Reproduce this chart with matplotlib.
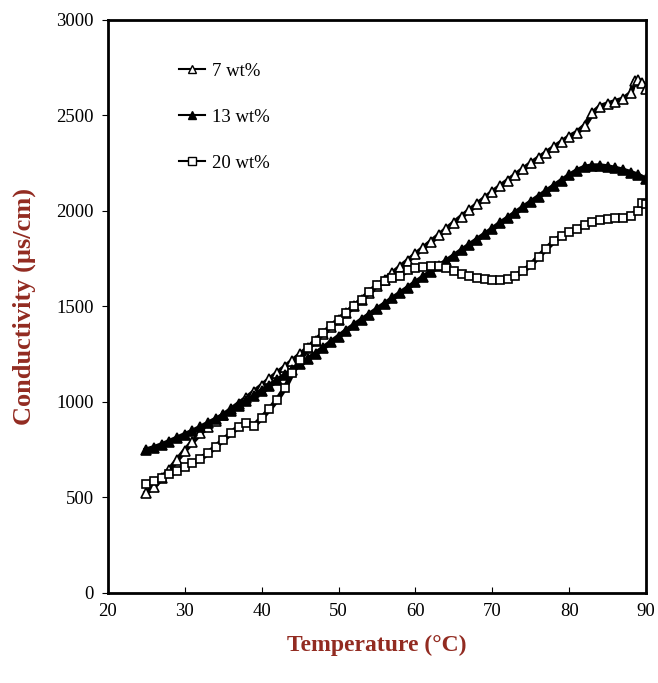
import numpy as np
import matplotlib
matplotlib.use('Agg')
import matplotlib.pyplot as plt

plt.rcParams['font.family'] = ['Liberation Serif', 'DejaVu Serif']

# Temperature readings (deg C)
temp = [25, 26, 27, 28, 29, 30, 31, 32, 33, 34, 35, 36, 37, 38, 39, 40,
        41, 42, 43, 44, 45, 46, 47, 48, 49, 50, 51, 52, 53, 54, 55, 56,
        57, 58, 59, 60, 61, 62, 63, 64, 65, 66, 67, 68, 69, 70, 71, 72,
        73, 74, 75, 76, 77, 78, 79, 80, 81, 82, 83, 84, 85, 86, 87, 88,
        89, 90]

# 7 wt% (open triangles)
temp_7 = temp[:64] + [88.5, 89, 89.5, 90]
cond_7 = [525, 555, 600, 645, 695, 745, 790, 835, 870, 900, 930, 960, 990, 1020, 1052, 1085,
          1118, 1150, 1182, 1215, 1248, 1282, 1318, 1355, 1392, 1430, 1465, 1500, 1535, 1570, 1605, 1640,
          1673, 1706, 1739, 1772, 1805, 1838, 1871, 1904, 1937, 1970, 2002, 2034, 2066, 2098, 2128, 2158,
          2188, 2218, 2248, 2276, 2304, 2332, 2360, 2388, 2410, 2445, 2510, 2545, 2560, 2572, 2585, 2615,
          2680, 2685, 2670, 2640]

# 13 wt% (filled triangles)
cond_13 = [748, 760, 775, 792, 810, 828, 846, 866, 887, 908, 930, 953, 976, 1002, 1030, 1058,
           1085, 1112, 1140, 1168, 1196, 1224, 1252, 1282, 1312, 1342, 1373, 1401, 1429, 1457, 1485, 1513,
           1541, 1569, 1597, 1625, 1653, 1681, 1709, 1737, 1765, 1793, 1821, 1849, 1877, 1905, 1935, 1962,
           1990, 2018, 2046, 2074, 2102, 2130, 2158, 2185, 2210, 2228, 2235, 2235, 2230, 2222, 2212, 2200,
           2185, 2165]

# 20 wt% (open squares)
temp_20 = temp[:65] + [89.5, 90]
cond_20 = [570, 585, 600, 620, 640, 660, 680, 700, 730, 765, 800, 835, 870, 890, 875, 915,
           960, 1010, 1070, 1150, 1220, 1280, 1320, 1360, 1395, 1430, 1465, 1500, 1535, 1575, 1610, 1632,
           1650, 1660, 1690, 1700, 1705, 1710, 1710, 1700, 1685, 1670, 1660, 1650, 1645, 1640, 1638, 1645,
           1660, 1685, 1715, 1760, 1800, 1840, 1870, 1888, 1905, 1925, 1940, 1950, 1955, 1960, 1965, 1975,
           2000, 2040, 2035]

fig = plt.figure(figsize=(6.58, 6.83), dpi=100)
ax = fig.add_axes([0.164, 0.132, 0.818, 0.839])

style = dict(color='black', lw=3.8, mec='black', mew=1.2)
ax.plot(temp_7, cond_7, marker='^', ms=6.5, mfc='white', label='7 wt%', **style)
ax.plot(temp, cond_13, marker='^', ms=6.5, mfc='black', label='13 wt%', **style)
ax.plot(temp_20, cond_20, marker='s', ms=6, mfc='white', label='20 wt%', **style)

ax.set_xlim(20, 90)
ax.set_ylim(0, 3000)
ax.set_xticks(np.arange(20, 91, 10))
ax.set_yticks(np.arange(0, 3001, 500))
ax.tick_params(axis='x', direction='in', length=4, labelsize=13.5, pad=7)
ax.tick_params(axis='y', direction='out', length=4, labelsize=13.5, pad=6)
for s in ax.spines.values():
    s.set_linewidth(2)

label_color = '#922B21'
ax.set_xlabel('Temperature (°C)', fontsize=17, fontweight='bold', color=label_color, labelpad=11)
ax.set_ylabel('Conductivity (µs/cm)', fontsize=19, fontweight='bold', color=label_color, labelpad=15)

leg = ax.legend(loc='upper left', bbox_to_anchor=(0.1, 0.955), frameon=False, fontsize=13.5,
                labelspacing=1.55, handlelength=1.4, handletextpad=0.4)
for line in leg.get_lines():
    line.set_linewidth(1.5)
    line.set_markersize(6)
    line.set_markeredgewidth(1)

fig.savefig('out.png', dpi=100)
